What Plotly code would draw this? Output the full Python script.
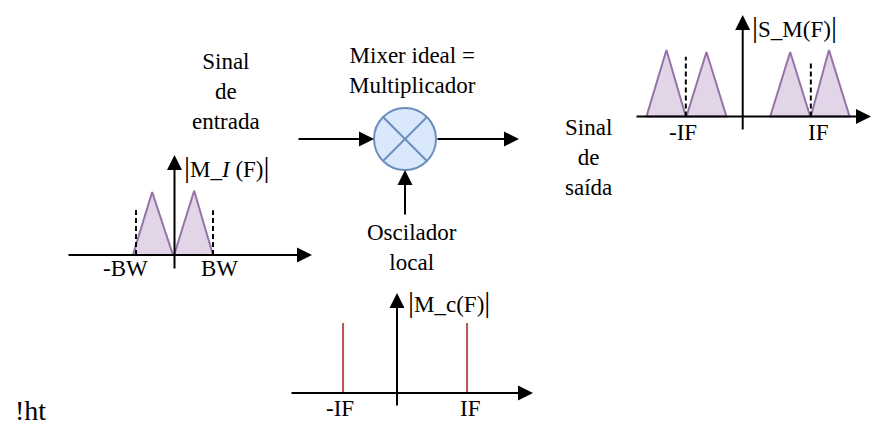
import plotly.graph_objects as go

W, H = 872, 428

# ---------------- data (spectra, in frequency / amplitude units) ----------------
# input signal |M_I(F)|  (frequency in units of BW)
in_tri_x = [[-1.08, -0.58, -0.04], [-0.01, 0.51, 1.00]]
in_tri_peak = [1.00, 1.02]
in_mark_x = [-1.0, 1.0]
in_mark_h = [0.75, 0.71]
in_labels = ["-BW", "BW"]

# output signal |S_M(F)|  (frequency in units of IF)
out_tri_x = [[-1.54, -1.22, -0.91], [-0.90, -0.58, -0.26],
             [0.44, 0.76, 1.08], [1.09, 1.38, 1.71]]
out_tri_peak = [1.00, 0.97, 0.97, 1.00]
out_mark_x = [-0.91, 1.09]
out_mark_h = [0.90, 0.80]
out_labels = ["-IF", "IF"]

# local oscillator |M_c(F)|  (frequency in units of IF)
lo_x = [-0.87, 1.13]
lo_h = [1.00, 1.00]
lo_labels = ["-IF", "IF"]

# ---------------- layout (pixels) ----------------
PANELS = {
    "in":  dict(n=2, ox=174.5, oy=255.0, sx=38.5, sy=63.0, hx=(67, 312), vy=(270, 155),
                lab_dx=[-11, 6], lab_dy=-13),
    "out": dict(n=3, ox=742.7, oy=116.5, sx=62.5, sy=66.5, hx=(635, 871), vy=(131, 15),
                lab_dx=[-3, 7], lab_dy=-16),
    "lo":  dict(n=4, ox=397.0, oy=393.0, sx=62.0, sy=70.0, hx=(290, 533), vy=(407, 293),
                lab_dx=[-3, 3], lab_dy=-15),
}

FONT = "'Liberation Serif', 'Times New Roman', serif"
FS = 23
TRI_FILL = "#e1d5e7"
TRI_LINE = "#9673a6"
RED = "#b85450"
BLUE_FILL = "#dae8fc"
BLUE_LINE = "#6c8ebf"
BAR = '<span style="font-size:30px">|</span>'

fig = go.Figure()
annotations = []
shapes = []


def arrow(x0, y0, x1, y1):
    annotations.append(dict(
        x=x1, y=y1, ax=x0, ay=y0, xref="x", yref="y", axref="x", ayref="y",
        text="", showarrow=True, arrowhead=2, arrowsize=1.5, arrowwidth=2,
        arrowcolor="black", standoff=0, startstandoff=0))


def label(text, x, y, size=FS, xanchor="center", xref="x", yref="y", xshift=0, yshift=0):
    annotations.append(dict(
        text=text, x=x, y=y, xref=xref, yref=yref, showarrow=False,
        xanchor=xanchor, yanchor="middle", xshift=xshift, yshift=yshift,
        font=dict(family=FONT, size=size, color="black")))


def axref(p):
    return ("x%d" % p["n"], "y%d" % p["n"])


def triangles(p, xs_list, peaks):
    xr, yr = axref(p)
    for xs, pk in zip(xs_list, peaks):
        fig.add_trace(go.Scatter(
            x=xs + [xs[0]], y=[0, pk, 0, 0], xaxis=xr, yaxis=yr,
            mode="lines", fill="toself", fillcolor=TRI_FILL,
            line=dict(color=TRI_LINE, width=2), hoverinfo="skip", showlegend=False))


def marks(p, xs, hs, color, dash):
    xr, yr = axref(p)
    for x, h in zip(xs, hs):
        fig.add_trace(go.Scatter(
            x=[x, x], y=[0, h], xaxis=xr, yaxis=yr, mode="lines",
            line=dict(color=color, width=2, dash=dash),
            hoverinfo="skip", showlegend=False))


def panel_labels(p, xs, texts):
    xr, yr = axref(p)
    for x, t, dx in zip(xs, texts, p["lab_dx"]):
        label(t, x, 0, xref=xr, yref=yr, xshift=dx, yshift=p["lab_dy"])


def panel_axes(p):
    arrow(p["hx"][0], p["oy"], p["hx"][1], p["oy"])
    arrow(p["ox"], p["vy"][0], p["ox"], p["vy"][1])


# ---------------- spectra ----------------
pin, pout, plo = PANELS["in"], PANELS["out"], PANELS["lo"]

triangles(pin, in_tri_x, in_tri_peak)
marks(pin, in_mark_x, in_mark_h, "black", "5px,3px")
panel_labels(pin, in_mark_x, in_labels)

triangles(pout, out_tri_x, out_tri_peak)
marks(pout, out_mark_x, out_mark_h, "black", "5px,3px")
panel_labels(pout, out_mark_x, out_labels)

marks(plo, lo_x, lo_h, RED, "solid")
panel_labels(plo, lo_x, lo_labels)

for p in PANELS.values():
    panel_axes(p)

# ---------------- spectrum titles ----------------
label(BAR + "M_<i>I</i> (F)" + BAR, 182, 166, xanchor="left")
label(BAR + "S_M(F)" + BAR, 750, 26, xanchor="left")
label(BAR + "M_c(F)" + BAR, 406, 301, xanchor="left")

# ---------------- mixer block ----------------
cx, cy, r = 405, 139, 31
shapes.append(dict(type="circle", xref="x", yref="y", x0=cx - r, x1=cx + r, y0=cy - r, y1=cy + r,
                   fillcolor=BLUE_FILL, line=dict(color=BLUE_LINE, width=2), layer="below"))
d = r * 0.7071
shapes.append(dict(type="line", xref="x", yref="y", x0=cx - d, y0=cy - d, x1=cx + d, y1=cy + d,
                   line=dict(color=BLUE_LINE, width=2), layer="below"))
shapes.append(dict(type="line", xref="x", yref="y", x0=cx - d, y0=cy + d, x1=cx + d, y1=cy - d,
                   line=dict(color=BLUE_LINE, width=2), layer="below"))
arrow(297, cy, cx - r, cy)
arrow(cx + r, cy, 519, cy)
arrow(cx, 216, cx, cy + r)

# ---------------- texts ----------------
label("Sinal<br>de<br>entrada", 226, 91)
label("Mixer ideal =<br>Multiplicador", 412, 70)
label("Oscilador<br>local", 412, 247)
label("Sinal<br>de<br>saída", 588, 157)
label("!ht", 13, 410, size=28, xanchor="left")

# ---------------- axes setup ----------------
layout = dict(
    width=W, height=H, margin=dict(l=0, r=0, t=0, b=0, pad=0),
    paper_bgcolor="white", plot_bgcolor="rgba(0,0,0,0)", showlegend=False,
    font=dict(family=FONT, size=FS, color="black"),
    xaxis=dict(range=[0, W], domain=[0, 1], visible=False, fixedrange=True),
    yaxis=dict(range=[H, 0], domain=[0, 1], visible=False, fixedrange=True),
    annotations=annotations, shapes=shapes,
)
for p in PANELS.values():
    n = p["n"]
    layout["xaxis%d" % n] = dict(range=[(0 - p["ox"]) / p["sx"], (W - p["ox"]) / p["sx"]],
                                 domain=[0, 1], visible=False, overlaying="x",
                                 anchor="y%d" % n, fixedrange=True)
    layout["yaxis%d" % n] = dict(range=[(p["oy"] - H) / p["sy"], p["oy"] / p["sy"]],
                                 domain=[0, 1], visible=False, overlaying="y",
                                 anchor="x%d" % n, fixedrange=True)
fig.update_layout(**layout)

fig.write_html("out.html", config={"displayModeBar": False},
               post_script="document.body.style.margin='0';document.body.style.overflow='hidden';")
